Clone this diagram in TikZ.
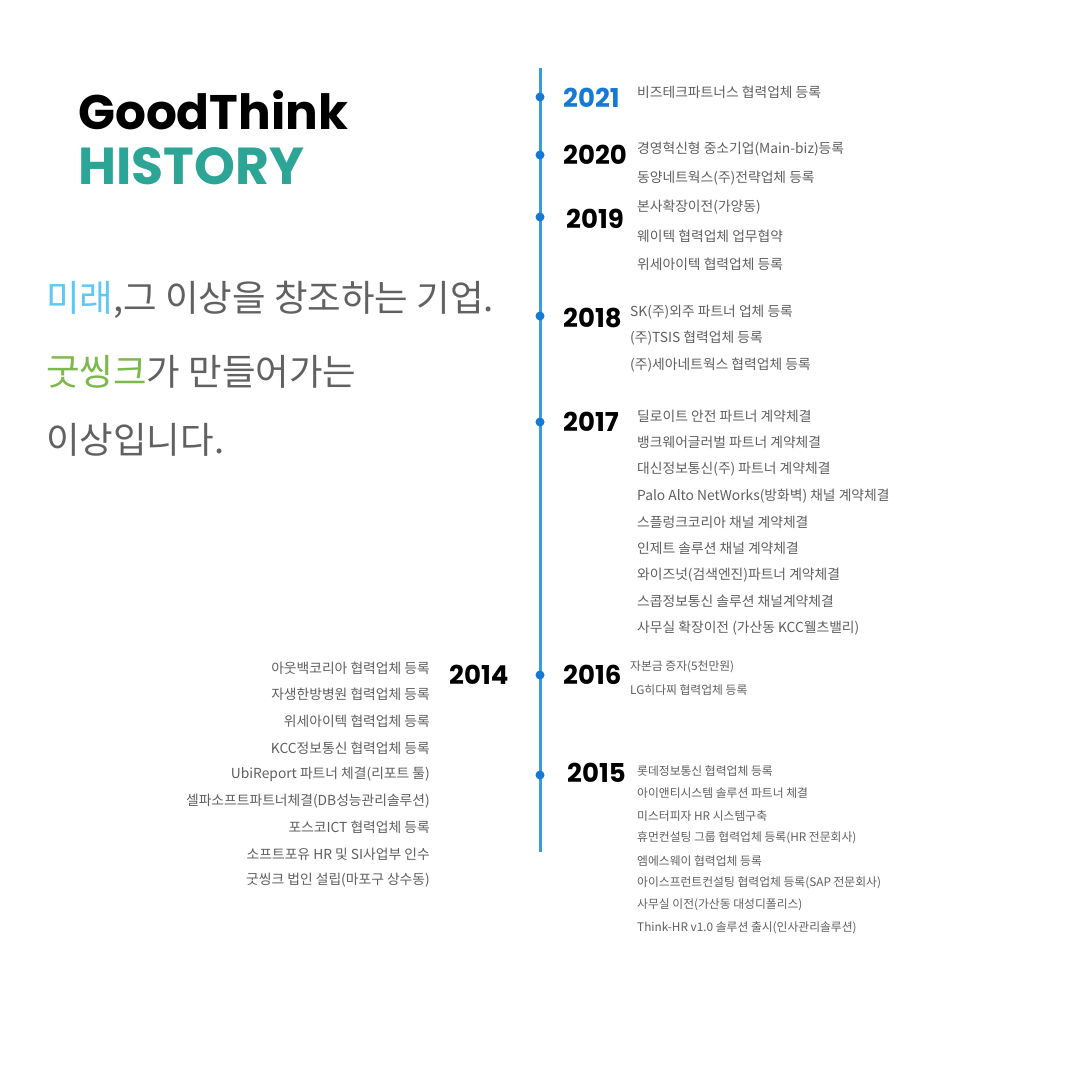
\documentclass[tikz,border=0pt]{standalone}
\usepackage{fontspec}
\newfontfamily\popfont{Poppins}
\newfontfamily\krfont{Noto Sans CJK KR}
\usetikzlibrary{positioning}
\definecolor{linecolor}{RGB}{61,155,224}
\definecolor{dotcolor}{RGB}{22,122,212}
\definecolor{tealcolor}{RGB}{44,165,151}
\definecolor{skycolor}{RGB}{92,200,245}
\definecolor{leafcolor}{RGB}{124,184,76}
\definecolor{itemgray}{RGB}{95,95,95}

\begin{document}
\begin{tikzpicture}[
			x=1pt,y=-1pt,
			year/.style={
				anchor=west,
				inner sep=0pt,
				font=\popfont\bfseries\fontsize{26}{26}\selectfont
			},
			item/.style={
				anchor=west,
				inner sep=0pt,
				text=itemgray,
				font=\krfont\fontsize{13.8}{13.8}\selectfont
			},
			smallitem/.style={
				item,
				font=\krfont\fontsize{11.8}{11.8}\selectfont
			},
			leftitem/.style={
				item,
				anchor=east
			},
			slogan/.style={
				anchor=west,
				inner sep=0pt,
				text=black!62,
				font=\krfont\fontsize{36.5}{36.5}\selectfont
			},
			dot/.style={
				circle,
				fill=dotcolor,
				minimum size=9pt,
				inner sep=0pt
			},
			timeline/.style={
				line width=3pt,
				draw=linecolor
			}
			]
			
			\useasboundingbox[fill=white] (0,0) rectangle (1080,1080);
			
			% Title
			\node[anchor=west,inner sep=0pt,font=\popfont\bfseries\fontsize{48.5}{48.5}\selectfont] (good) at (78,110) {GoodThink};
			\node[anchor=west,inner sep=0pt,font=\popfont\bfseries\fontsize{52}{52}\selectfont,text=tealcolor] (hist) at (78,166) {HISTORY};
			
			% Slogan
			\node[slogan] (slogan1) at (46,300) {\textcolor{skycolor}{미래},그 이상을 창조하는 기업.};
			\node[slogan] (slogan2) at (46,372) {\textcolor{leafcolor}{굿씽크}가 만들어가는};
			\node[slogan] (slogan3) at (46,440) {이상입니다.};
			
			% Timeline
			\coordinate (top) at (540,68);
			\coordinate (bottom) at (540,852);
			\draw[timeline] (top) -- (bottom);
			
			\foreach \name/\y in {d21/97,d20/155,d19/217,d18/316,d17/422,d16/675,d15/775}
			\node[dot] (\name) at (540,\y) {};
			
			% Years
			\node[year,text=dotcolor] (y21) at (563,98) {2021};
			\node[year] (y20) at (563,155) {2020};
			\node[year] (y19) at (566,219) {2019};
			\node[year] (y18) at (563,318) {2018};
			\node[year] (y17) at (563,422) {2017};
			\node[year] (y16) at (563,675) {2016};
			\node[year] (y15) at (567,773) {2015};
			\node[year] (y14) at (449,675) {2014};
			
			% 2021
			\node[item] (a1) at (637,92) {비즈테크파트너스 협력업체 등록};
			
			% 2020
			\node[item] (b1) at (637,149) {경영혁신형 중소기업(Main-biz)등록};
			\node[item] (b2) at (637,178) {동양네트웍스(주)전략업체 등록};
			
			% 2019
			\node[item] (c1) at (637,207) {본사확장이전(가양동)};
			\node[item] (c2) at (637,236) {웨이텍 협력업체 업무협약};
			\node[item] (c3) at (637,264) {위세아이텍 협력업체 등록};
			
			% 2018
			\node[item] (d1) at (630,312) {SK(주)외주 파트너 업체 등록};
			\node[item] (d2) at (630,338) {(주)TSIS 협력업체 등록};
			\node[item] (d3) at (630,365) {(주)세아네트웍스 협력업체 등록};
			
			% 2017
			\node[item] (e1) at (637,416) {딜로이트 안전 파트너 계약체결};
			\node[item] (e2) at (637,442) {뱅크웨어글러벌 파트너 계약체결};
			\node[item] (e3) at (637,469) {대신정보통신(주) 파트너 계약체결};
			\node[item] (e4) at (637,496) {Palo Alto NetWorks(방화벽) 채널 계약체결};
			\node[item] (e5) at (637,522) {스플렁크코리아 채널 계약체결};
			\node[item] (e6) at (637,548) {인제트 솔루션 채널 계약체결};
			\node[item] (e7) at (637,575) {와이즈넛(검색엔진)파트너 계약체결};
			\node[item] (e8) at (637,601) {스콥정보통신 솔루션 채널계약체결};
			\node[item] (e9) at (637,628) {사무실 확장이전 (가산동 KCC웰츠밸리)};
			
			% 2016
			\node[smallitem] (f1) at (630,667) {자본금 증자(5천만원)};
			\node[smallitem] (f2) at (630,690) {LG히다찌 협력업체 등록};
			
			% 2015
			\node[smallitem] (g1) at (637,771) {롯데정보통신 협력업체 등록};
			\node[smallitem] (g2) at (637,793) {아이앤티시스템 솔루션 파트너 체결};
			\node[smallitem] (g3) at (637,816) {미스터피자 HR 시스템구축};
			\node[smallitem] (g4) at (637,838) {휴먼컨설팅 그룹 협력업체 등록(HR 전문회사)};
			\node[smallitem] (g5) at (637,861) {엠에스웨이 협력업체 등록};
			\node[smallitem] (g6) at (637,883) {아이스프런트컨설팅 협력업체 등록(SAP 전문회사)};
			\node[smallitem] (g7) at (637,905) {사무실 이전(가산동 대성디폴리스)};
			\node[smallitem] (g8) at (637,928) {Think-HR v1.0 솔루션 출시(인사관리솔루션)};
			
			% 2014
			\node[leftitem] (h1) at (430,668) {아웃백코리아 협력업체 등록};
			\node[leftitem] (h2) at (430,694) {자생한방병원 협력업체 등록};
			\node[leftitem] (h3) at (430,721) {위세아이텍 협력업체 등록};
			\node[leftitem] (h4) at (430,748) {KCC정보통신 협력업체 등록};
			\node[leftitem] (h5) at (430,774) {UbiReport 파트너 체결(리포트 툴)};
			\node[leftitem] (h6) at (430,801) {셀파소프트파트너체결(DB성능관리솔루션)};
			\node[leftitem] (h7) at (430,827) {포스코ICT 협력업체 등록};
			\node[leftitem] (h8) at (430,854) {소프트포유 HR 및 SI사업부 인수};
			\node[leftitem] (h9) at (430,880) {굿씽크 법인 설립(마포구 상수동)};
			
		\end{tikzpicture}
\end{document}
